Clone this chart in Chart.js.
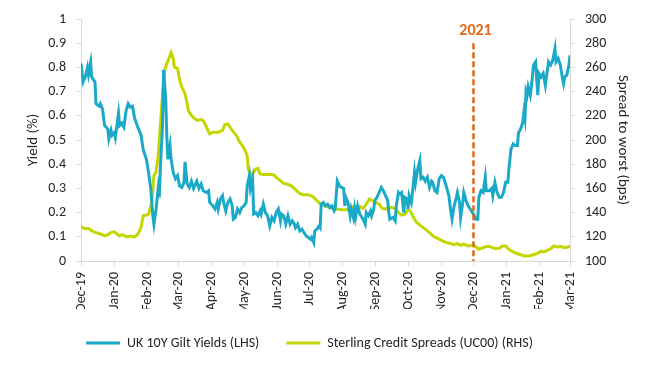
<!DOCTYPE html>
<html>
<head>
<meta charset="utf-8">
<script src="https://cdn.jsdelivr.net/npm/chart.js@4/dist/chart.umd.min.js"></script>
<style>
  html, body { margin: 0; padding: 0; background: #ffffff; }
  #wrap { width: 655px; height: 368px; position: relative; }
</style>
</head>
<body>
<div id="wrap"><canvas id="c" width="655" height="368"></canvas></div>
<script>
// ---- Data (days counted from 1 Dec 2019) ----
const monthDays = [0, 31, 62, 91, 122, 152, 183, 213, 244, 275, 305, 336, 366, 397, 428, 456];
const monthLabels = ['Dec-19','Jan-20','Feb-20','Mar-20','Apr-20','May-20','Jun-20','Jul-20','Aug-20','Sep-20','Oct-20','Nov-20','Dec-20','Jan-21','Feb-21','Mar-21'];

// UK 10Y Gilt Yields (%), LHS
const giltDays = [0,2,4,6,7,9,10,13,14,17,18,20,22,25,26,28,29,31,32,35,36,38,40,42,44,46,48,50,53,56,58,61,63,65,67,68,70,72,73,74,76,77,79,80,81,83,84,86,88,90,92,94,96,97,99,101,103,105,108,110,112,114,117,119,120,123,125,127,128,130,132,133,135,137,139,141,142,144,146,148,150,152,154,155,157,158,160,161,163,165,167,168,170,172,174,176,178,180,182,184,186,187,189,191,193,195,197,199,200,202,204,206,208,210,212,214,215,217,218,220,222,223,224,226,228,230,232,234,236,237,239,241,243,245,246,247,249,251,252,254,255,256,258,260,261,263,265,266,268,270,271,273,274,276,278,280,282,284,286,287,288,291,293,294,296,297,299,301,302,304,305,306,308,309,311,312,314,316,317,319,321,323,325,327,328,330,332,334,336,338,340,343,345,346,348,350,351,353,354,356,357,359,361,363,365,366,368,370,371,373,375,377,378,381,383,384,386,388,390,392,394,396,398,399,401,403,405,407,408,410,412,413,414,415,416,417,419,420,422,424,425,426,427,429,431,433,434,436,438,440,442,443,445,447,449,450,451,453,455,456];
const gilt = [0.816,0.74,0.76,0.80,0.77,0.82,0.76,0.74,0.65,0.64,0.65,0.63,0.56,0.546,0.505,0.54,0.52,0.53,0.51,0.61,0.56,0.57,0.553,0.62,0.65,0.636,0.64,0.59,0.553,0.52,0.46,0.42,0.366,0.30,0.187,0.152,0.215,0.30,0.263,0.38,0.56,0.79,0.67,0.52,0.42,0.477,0.42,0.366,0.34,0.353,0.31,0.304,0.325,0.41,0.318,0.304,0.33,0.30,0.33,0.30,0.318,0.29,0.283,0.29,0.242,0.228,0.215,0.242,0.215,0.256,0.27,0.242,0.207,0.242,0.256,0.228,0.173,0.18,0.215,0.20,0.221,0.228,0.242,0.31,0.353,0.30,0.34,0.194,0.20,0.187,0.207,0.194,0.235,0.20,0.187,0.145,0.18,0.166,0.20,0.215,0.166,0.194,0.187,0.152,0.187,0.152,0.166,0.152,0.138,0.152,0.124,0.131,0.117,0.104,0.097,0.09,0.097,0.076,0.124,0.131,0.145,0.138,0.235,0.242,0.228,0.235,0.221,0.228,0.207,0.215,0.33,0.31,0.304,0.30,0.228,0.263,0.242,0.187,0.215,0.18,0.215,0.18,0.228,0.194,0.187,0.173,0.152,0.20,0.187,0.207,0.187,0.215,0.25,0.263,0.283,0.304,0.29,0.27,0.25,0.20,0.173,0.18,0.166,0.228,0.283,0.277,0.283,0.20,0.263,0.256,0.215,0.27,0.242,0.277,0.366,0.325,0.38,0.415,0.34,0.346,0.33,0.346,0.304,0.33,0.325,0.29,0.283,0.34,0.353,0.346,0.318,0.27,0.20,0.173,0.228,0.263,0.283,0.242,0.18,0.242,0.283,0.25,0.228,0.215,0.20,0.194,0.173,0.173,0.263,0.29,0.283,0.346,0.29,0.29,0.30,0.27,0.325,0.283,0.263,0.263,0.283,0.325,0.325,0.38,0.463,0.484,0.477,0.477,0.53,0.546,0.574,0.615,0.588,0.70,0.685,0.72,0.685,0.72,0.81,0.823,0.747,0.685,0.775,0.76,0.775,0.726,0.76,0.823,0.81,0.83,0.878,0.823,0.837,0.81,0.754,0.733,0.76,0.768,0.81,0.85];

// Sterling Credit Spreads (UC00), bps, RHS
const creditDays = [0,3,7,10,14,19,22,25,28,31,34,36,38,41,43,46,50,53,56,58,61,63,66,68,70,72,74,76,78,80,82,84,86,87,90,92,94,97,99,100,103,106,109,112,114,117,120,123,128,132,134,137,141,145,148,151,153,155,156,158,159,161,163,165,167,170,176,180,182,186,189,192,196,199,201,204,207,211,215,218,221,224,228,232,239,243,248,252,256,260,263,266,269,272,275,278,281,284,287,290,293,296,299,302,305,307,310,313,317,321,325,329,333,337,341,345,348,351,354,357,361,365,368,371,375,378,381,384,387,390,393,396,399,403,406,410,414,418,422,426,429,432,435,438,441,444,448,451,454,456];
const credit = [128.5,126.8,126.8,124.9,123.5,122.1,120.7,121.8,123.5,124.1,122.1,120.7,121.8,120.7,119.9,120.7,119.9,122.1,127.6,137.3,137.9,138.7,148.4,170.5,173.3,187.1,212,236.9,257.7,263.2,267.4,272.4,267.4,260.4,259.1,249.4,243.8,238.3,230,224.5,220.3,217.6,216.2,217,216,210.6,205.1,206.5,206.5,207.9,212.6,213.4,207.9,203.7,198.2,194.8,191.3,187.1,176.1,171.9,171.1,173.3,176.1,176.6,171.9,171.4,171.4,171.1,169.1,166.4,164.1,163.6,162.2,160,158.1,155.8,154.8,154.8,153.9,151.7,149,146.5,145.6,144.2,142.9,142.3,142.3,144.2,145.6,145.1,143.4,147,151.2,149.8,148.4,147,143.4,142.9,144.2,144.2,143.4,140.1,137.9,138.7,142.3,141.5,135.9,131.8,129,126.3,123.5,120.2,118.5,116.6,115.2,114.4,113.5,114.4,113,113.9,112.4,113,111.9,109.7,111,111.9,111.9,111,110.2,110.5,112.4,112.4,109.7,107.5,106.4,105.2,104.1,104.1,105.2,106.4,108,107.5,108.9,110.2,112.4,111.6,111.9,111,111.6,112.4];

const markerDay = 366;     // Dec-20
const markerText = '2021';

const seriesNames = ['UK 10Y Gilt Yields (LHS)', 'Sterling Credit Spreads (UC00) (RHS)'];
const BLUE = '#1aa9c6';
const LIME = '#c4d600';
const ORANGE = '#e0671c';
const AXIS = '#d9d9d9';
const TXT = '#262626';
const FONT = 'Carlito, Lato, "Open Sans", sans-serif';

const markerPlugin = {
  id: 'marker',
  afterLayout(chart) {
    // shift legend to match reference centring
    const lg = chart.legend;
    if (lg) { lg.left -= 18; lg.right -= 18; }
  },
  afterDatasetsDraw(chart) {
    const {ctx, scales} = chart;
    const x = scales.x.getPixelForValue(markerDay);
    const yTop = scales.y.getPixelForValue(0.9);
    const yBot = scales.y.getPixelForValue(0);
    ctx.save();
    ctx.strokeStyle = ORANGE;
    ctx.lineWidth = 2.5;
    ctx.setLineDash([6, 3]);
    ctx.beginPath();
    ctx.moveTo(x, yTop);
    ctx.lineTo(x, yBot);
    ctx.stroke();
    ctx.setLineDash([]);
    ctx.fillStyle = ORANGE;
    ctx.font = 'bold 16px ' + FONT;
    ctx.textAlign = 'center';
    ctx.textBaseline = 'middle';
    ctx.fillText(markerText, x + 2, scales.y.getPixelForValue(0.95));
    ctx.restore();
  }
};

new Chart(document.getElementById('c'), {
  type: 'line',
  data: {
    datasets: [
      {
        label: seriesNames[0],
        data: giltDays.map((d, i) => ({x: d, y: gilt[i]})),
        borderColor: BLUE, backgroundColor: BLUE,
        borderWidth: 3, pointRadius: 0, tension: 0, yAxisID: 'y'
      },
      {
        label: seriesNames[1],
        data: creditDays.map((d, i) => ({x: d, y: credit[i]})),
        borderColor: LIME, backgroundColor: LIME,
        borderWidth: 3, pointRadius: 0, tension: 0, yAxisID: 'y1'
      }
    ]
  },
  options: {
    responsive: false,
    animation: false,
    events: [],
    layout: { padding: { top: 19, left: 0, right: 0, bottom: 8 } },
    plugins: {
      legend: {
        position: 'bottom',
        labels: {
          usePointStyle: true, pointStyle: 'line', pointStyleWidth: 34,
          boxHeight: 14,
          color: TXT, font: { family: FONT, size: 14 }, padding: 27
        }
      },
      tooltip: { enabled: false }
    },
    scales: {
      x: {
        type: 'linear', min: 0, max: 456,
        afterBuildTicks: (s) => { s.ticks = monthDays.map(v => ({value: v})); },
        afterFit: (s) => { s.height = 48; },
        grid: { display: true, drawOnChartArea: false, color: AXIS, tickLength: 5 },
        border: { color: AXIS, width: 1 },
        ticks: {
          autoSkip: false, minRotation: 90, maxRotation: 90, padding: 6,
          color: TXT, font: { family: FONT, size: 14 },
          callback: (v) => { const i = monthDays.indexOf(v); return i >= 0 ? monthLabels[i] : ''; }
        }
      },
      y: {
        position: 'left', min: 0, max: 1,
        afterFit: (s) => { s.width = 81; },
        grid: { display: true, drawOnChartArea: false, color: AXIS, tickLength: 5 },
        border: { color: AXIS, width: 1 },
        ticks: { stepSize: 0.1, padding: 10, color: TXT, font: { family: FONT, size: 14 },
                 callback: (v) => String(Number(v.toFixed(1))) },
        title: { display: true, text: 'Yield (%)', color: TXT, font: { family: FONT, size: 15 }, padding: { top: 24, bottom: 0 } }
      },
      y1: {
        position: 'right', min: 100, max: 300,
        afterFit: (s) => { s.width = 85; },
        grid: { display: true, drawOnChartArea: false, color: AXIS, tickLength: 5 },
        border: { color: AXIS, width: 1 },
        ticks: { stepSize: 20, padding: 10, color: TXT, font: { family: FONT, size: 14 } },
        title: { display: true, text: 'Spread to worst (bps)', color: TXT, font: { family: FONT, size: 15 }, padding: { top: 23, bottom: 0 } }
      }
    }
  },
  plugins: [markerPlugin]
});
</script>
</body>
</html>
